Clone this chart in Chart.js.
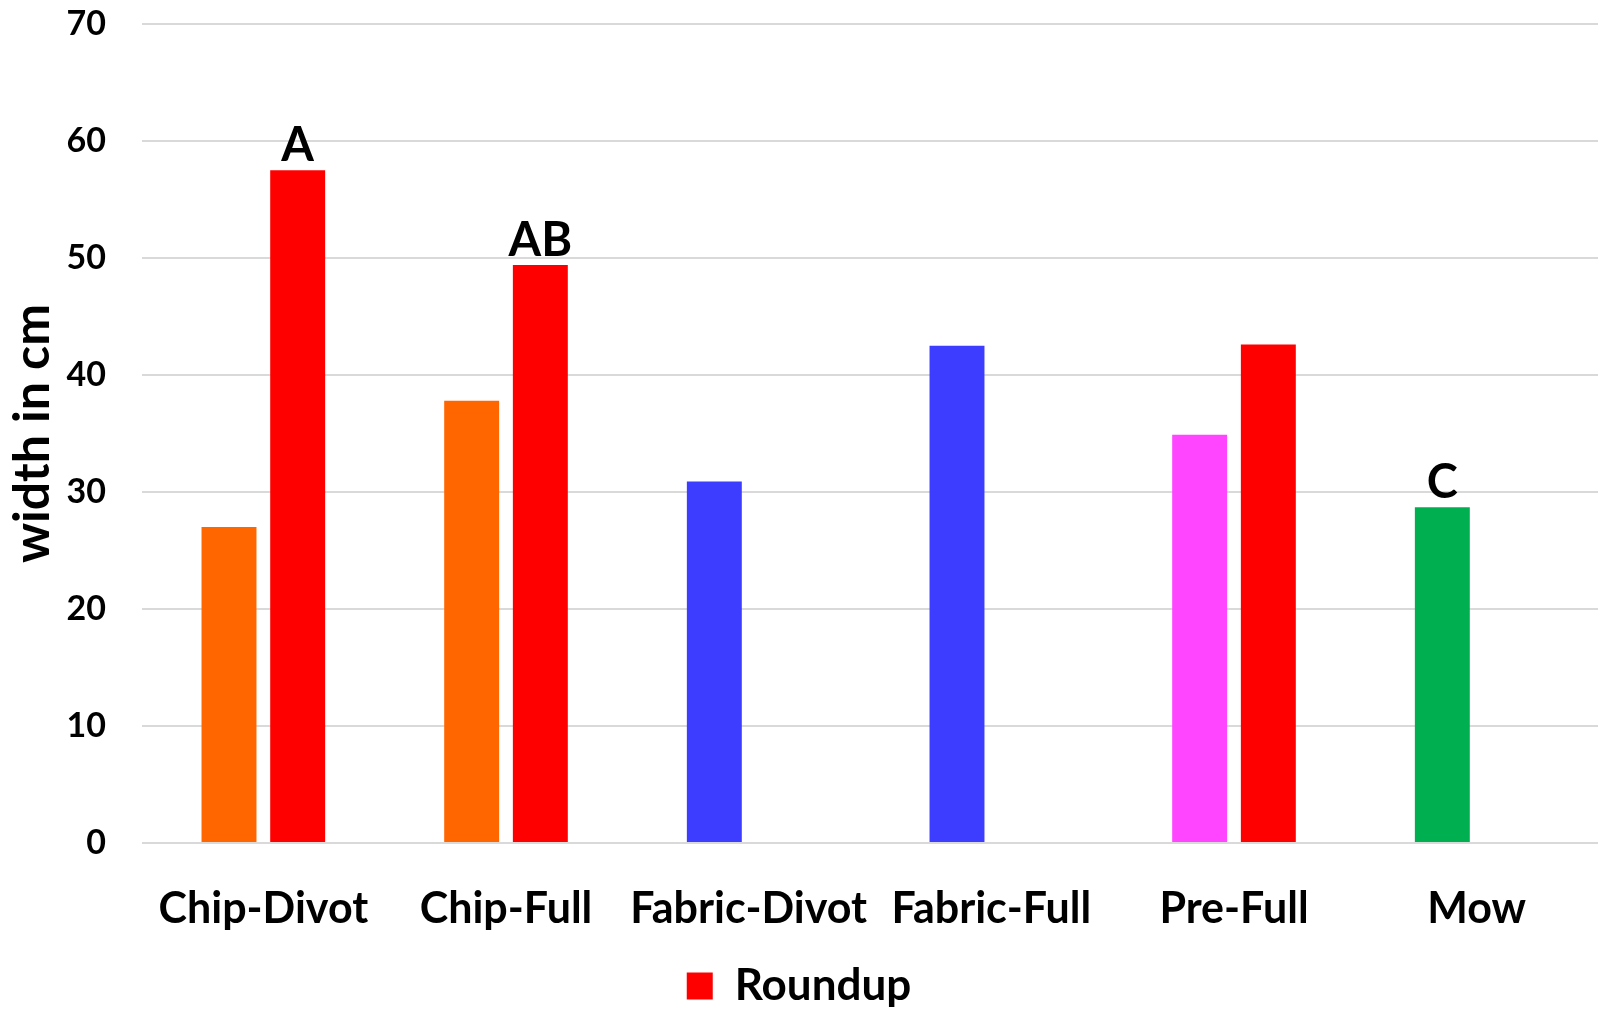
<!DOCTYPE html>
<html>
<head>
<meta charset="utf-8">
<title>width in cm</title>
<style>
    html, body { margin: 0; padding: 0; background: #fff; }
    #wrap { width: 1598px; height: 1010px; }
</style>
</head>
<body>
<div id="wrap"><canvas id="myChart"></canvas></div>

<script src="https://cdn.jsdelivr.net/npm/chart.js"></script>
<script>
    const categories = ['Chip-Divot', 'Chip-Full', 'Fabric-Divot', 'Fabric-Full', 'Pre-Full', 'Mow'];

    // first bar of each group (no legend entry), one colour per group
    const baseValues = [27.0, 37.8, 30.9, 42.5, 34.9, 28.7];
    const baseColors = ['#ff6600', '#ff6600', '#3d3dff', '#3d3dff', '#ff45ff', '#00b050'];
    const baseLetters = ['', '', '', '', '', 'C'];

    // Roundup bars
    const roundupValues = [57.5, 49.4, null, null, 42.6, null];
    const roundupLetters = ['A', 'AB', '', '', '', ''];

    const yTicks = [0, 10, 20, 30, 40, 50, 60, 70];

    const fontFamily = 'Lato, "Open Sans", sans-serif';

    // letters written above the bars
    const letterPlugin = {
        id: 'letters',
        afterDatasetsDraw(chart) {
            const ctx = chart.ctx;
            const sets = [baseLetters, roundupLetters];
            ctx.save();
            ctx.font = `bold 47px ${fontFamily}`;
            ctx.fillStyle = '#000';
            ctx.textAlign = 'center';
            ctx.textBaseline = 'alphabetic';
            sets.forEach((letters, di) => {
                const meta = chart.getDatasetMeta(di);
                letters.forEach((txt, i) => {
                    if (!txt) return;
                    const bar = meta.data[i];
                    ctx.fillText(txt, bar.x, bar.y - 9);
                });
            });
            ctx.restore();
        }
    };

    const ctx = document.getElementById('myChart');

    new Chart(ctx, {
        type: 'bar',
        data: {
            labels: categories,
            datasets: [
                {
                    label: 'Treatment',
                    data: baseValues,
                    backgroundColor: baseColors,
                    categoryPercentage: 0.566,
                    barPercentage: 0.8
                },
                {
                    label: 'Roundup',
                    data: roundupValues,
                    backgroundColor: '#ff0000',
                    categoryPercentage: 0.566,
                    barPercentage: 0.8
                }
            ]
        },
        options: {
            responsive: true,
            maintainAspectRatio: false,
            animation: false,
            layout: { padding: { top: 24, right: 0, bottom: -8, left: 0 } },
            plugins: {
                tooltip: { enabled: false },
                legend: {
                    position: 'bottom',
                    labels: {
                        filter: item => item.text === 'Roundup',
                        boxWidth: 26,
                        boxHeight: 27,
                        padding: 10,
                        color: '#000',
                        font: { family: fontFamily, size: 44, weight: 'bold' }
                    }
                }
            },
            scales: {
                x: {
                    afterFit: scale => { scale.height = 111; },
                    grid: { display: false },
                    border: { display: false },
                    ticks: {
                        color: '#000',
                        padding: 32,
                        maxRotation: 0,
                        autoSkip: false,
                        font: { family: fontFamily, size: 43, weight: 'bold' }
                    }
                },
                y: {
                    min: 0,
                    max: 70,
                    afterBuildTicks: scale => {
                        scale.ticks = yTicks.map(v => ({ value: v }));
                    },
                    afterFit: scale => { scale.width = 142; },
                    // invisible tick marks keep the labels clear of the grid
                    grid: {
                        color: '#d9d9d9',
                        lineWidth: 2,
                        drawTicks: true,
                        tickLength: 36,
                        tickColor: 'rgba(0,0,0,0)'
                    },
                    border: { display: false },
                    ticks: {
                        color: '#000',
                        padding: 0,
                        font: { family: fontFamily, size: 34, weight: 'bold' }
                    },
                    title: {
                        display: true,
                        text: 'width in cm',
                        color: '#000',
                        padding: { top: 3, bottom: 0 },
                        font: { family: fontFamily, size: 50, weight: 'bold' }
                    }
                }
            }
        },
        plugins: [letterPlugin]
    });
</script>
</body>
</html>
